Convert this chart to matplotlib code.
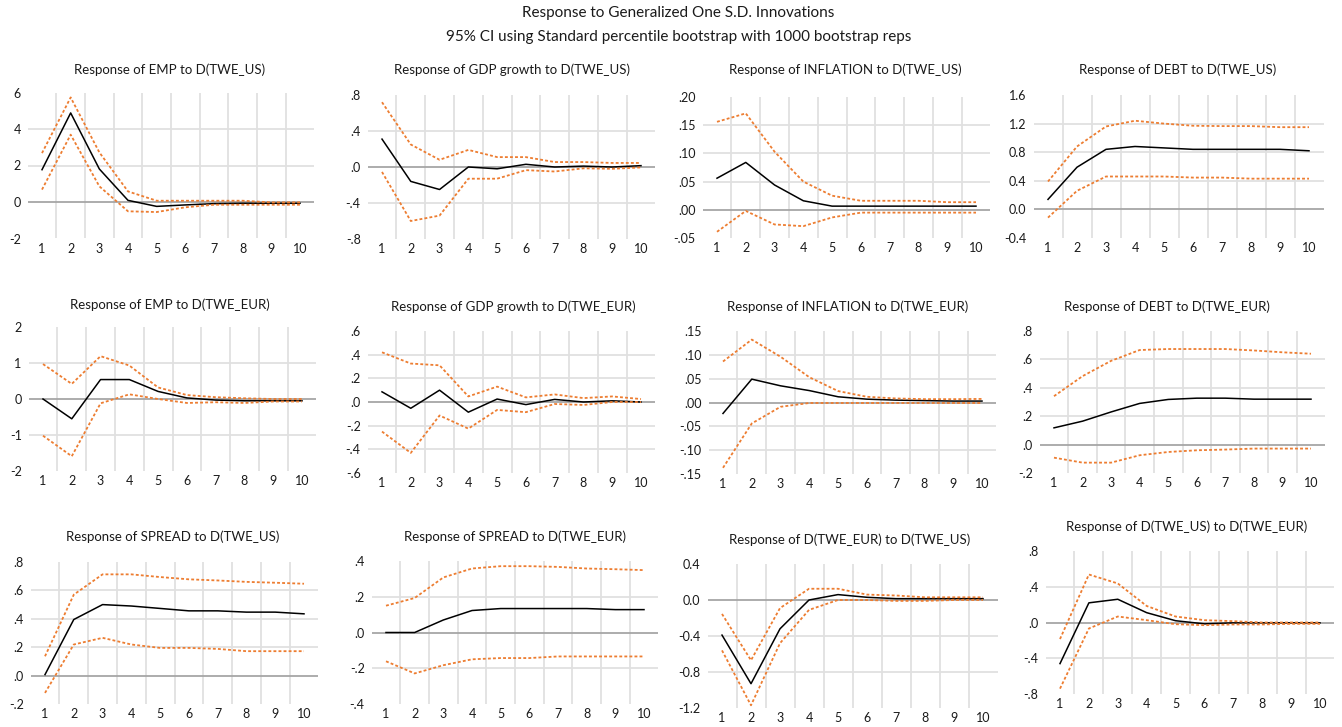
import numpy as np
import matplotlib.pyplot as plt

plt.rcParams["font.family"] = ["Lato", "DejaVu Sans"]

W, H = 1342, 727
horizon = list(range(1, 11))

# ---- responses to D(TWE_US) / D(TWE_EUR): point estimate, upper and lower band
emp_us = [1.77, 4.88, 1.81, 0.09, -0.24, -0.16, -0.09, -0.07, -0.07, -0.07]
emp_us_hi = [2.68, 5.73, 2.72, 0.58, 0.07, 0.07, 0.07, 0.07, -0.02, -0.02]
emp_us_lo = [0.68, 3.69, 0.86, -0.51, -0.55, -0.29, -0.15, -0.15, -0.15, -0.15]

gdp_us = [0.31, -0.16, -0.25, 0.0, -0.02, 0.03, 0.0, 0.01, 0.0, 0.015]
gdp_us_hi = [0.72, 0.25, 0.08, 0.19, 0.11, 0.11, 0.055, 0.055, 0.045, 0.045]
gdp_us_lo = [-0.055, -0.60, -0.54, -0.13, -0.13, -0.035, -0.05, -0.015, -0.02, -0.005]

inf_us = [0.056, 0.084, 0.044, 0.016, 0.0065, 0.0065, 0.0065, 0.0065, 0.0065, 0.0065]
inf_us_hi = [0.156, 0.171, 0.103, 0.050, 0.025, 0.016, 0.016, 0.016, 0.0135, 0.0135]
inf_us_lo = [-0.039, -0.002, -0.026, -0.029, -0.0135, -0.005, -0.005, -0.005, -0.005, -0.005]

debt_us = [0.14, 0.59, 0.84, 0.88, 0.86, 0.84, 0.84, 0.84, 0.84, 0.82]
debt_us_hi = [0.39, 0.88, 1.16, 1.24, 1.20, 1.17, 1.165, 1.165, 1.15, 1.15]
debt_us_lo = [-0.115, 0.26, 0.46, 0.46, 0.46, 0.445, 0.445, 0.43, 0.43, 0.43]

emp_eur = [0.0, -0.55, 0.54, 0.54, 0.21, 0.03, -0.03, -0.05, -0.05, -0.05]
emp_eur_hi = [0.97, 0.42, 1.19, 0.93, 0.32, 0.11, 0.05, 0.02, 0.0, 0.0]
emp_eur_lo = [-1.02, -1.59, -0.12, 0.13, 0.0, -0.11, -0.09, -0.11, -0.07, -0.07]

gdp_eur = [0.086, -0.053, 0.10, -0.086, 0.025, -0.022, 0.022, 0.0, 0.01, 0.0]
gdp_eur_hi = [0.42, 0.325, 0.31, 0.047, 0.13, 0.039, 0.064, 0.033, 0.047, 0.025]
gdp_eur_lo = [-0.25, -0.43, -0.114, -0.225, -0.067, -0.086, -0.017, -0.025, 0.0, 0.0]

inf_eur = [-0.023, 0.049, 0.035, 0.025, 0.012, 0.007, 0.005, 0.004, 0.003, 0.003]
inf_eur_hi = [0.086, 0.132, 0.096, 0.053, 0.024, 0.012, 0.0085, 0.007, 0.007, 0.0075]
inf_eur_lo = [-0.137, -0.044, -0.009, -0.001, -0.001, -0.001, -0.001, -0.001, -0.001, -0.001]

debt_eur = [0.118, 0.165, 0.23, 0.29, 0.318, 0.327, 0.327, 0.32, 0.32, 0.32]
debt_eur_hi = [0.341, 0.482, 0.59, 0.666, 0.673, 0.673, 0.673, 0.663, 0.65, 0.64]
debt_eur_lo = [-0.092, -0.127, -0.127, -0.075, -0.052, -0.04, -0.035, -0.028, -0.028, -0.028]

spread_us = [0.007, 0.395, 0.50, 0.49, 0.473, 0.456, 0.456, 0.447, 0.447, 0.435]
spread_us_hi = [0.136, 0.57, 0.713, 0.713, 0.694, 0.678, 0.67, 0.66, 0.654, 0.647]
spread_us_lo = [-0.122, 0.219, 0.266, 0.219, 0.195, 0.195, 0.188, 0.172, 0.172, 0.172]

spread_eur = [0.0, 0.0, 0.07, 0.123, 0.134, 0.134, 0.134, 0.134, 0.128, 0.128]
spread_eur_hi = [0.15, 0.193, 0.308, 0.358, 0.371, 0.371, 0.367, 0.358, 0.354, 0.349]
spread_eur_lo = [-0.161, -0.229, -0.183, -0.15, -0.143, -0.143, -0.134, -0.134, -0.134, -0.134]

eur_us = [-0.39, -0.93, -0.32, 0.0, 0.06, 0.03, 0.015, 0.015, 0.015, 0.015]
eur_us_hi = [-0.155, -0.67, -0.09, 0.125, 0.125, 0.06, 0.05, 0.03, 0.03, 0.03]
eur_us_lo = [-0.56, -1.17, -0.48, -0.11, 0.0, 0.0, -0.01, -0.01, 0.0, 0.0]

us_eur = [-0.46, 0.22, 0.26, 0.11, 0.02, -0.015, -0.004, -0.004, -0.004, -0.004]
us_eur_hi = [-0.185, 0.537, 0.437, 0.185, 0.067, 0.026, 0.015, 0.0, 0.0, 0.0]
us_eur_lo = [-0.74, -0.067, 0.067, 0.026, -0.019, -0.03, -0.022, -0.022, -0.015, -0.015]

titles = [
    "Response of EMP to D(TWE_US)", "Response of GDP growth to D(TWE_US)",
    "Response of INFLATION to D(TWE_US)", "Response of DEBT to D(TWE_US)",
    "Response of EMP to D(TWE_EUR)", "Response of GDP growth to D(TWE_EUR)",
    "Response of INFLATION to D(TWE_EUR)", "Response of DEBT to D(TWE_EUR)",
    "Response of SPREAD to D(TWE_US)", "Response of SPREAD to D(TWE_EUR)",
    "Response of D(TWE_EUR) to D(TWE_US)", "Response of D(TWE_US) to D(TWE_EUR)",
]
series = [
    (emp_us, emp_us_hi, emp_us_lo), (gdp_us, gdp_us_hi, gdp_us_lo),
    (inf_us, inf_us_hi, inf_us_lo), (debt_us, debt_us_hi, debt_us_lo),
    (emp_eur, emp_eur_hi, emp_eur_lo), (gdp_eur, gdp_eur_hi, gdp_eur_lo),
    (inf_eur, inf_eur_hi, inf_eur_lo), (debt_eur, debt_eur_hi, debt_eur_lo),
    (spread_us, spread_us_hi, spread_us_lo), (spread_eur, spread_eur_hi, spread_eur_lo),
    (eur_us, eur_us_hi, eur_us_lo), (us_eur, us_eur_hi, us_eur_lo),
]
yticks = [
    [-2, 0, 2, 4, 6], [-.8, -.4, 0, .4, .8], [-.05, 0, .05, .1, .15, .2],
    [-0.4, 0, 0.4, 0.8, 1.2, 1.6], [-2, -1, 0, 1, 2], [-.6, -.4, -.2, 0, .2, .4, .6],
    [-.15, -.1, -.05, 0, .05, .1, .15], [-.2, 0, .2, .4, .6, .8],
    [-.2, 0, .2, .4, .6, .8], [-.4, -.2, 0, .2, .4], [-1.2, -0.8, -0.4, 0, 0.4],
    [-.8, -.4, 0, .4, .8],
]
ylabels = [
    ["-2", "0", "2", "4", "6"], ["-.8", "-.4", ".0", ".4", ".8"],
    ["-.05", ".00", ".05", ".10", ".15", ".20"], ["-0.4", "0.0", "0.4", "0.8", "1.2", "1.6"],
    ["-2", "-1", "0", "1", "2"], ["-.6", "-.4", "-.2", ".0", ".2", ".4", ".6"],
    ["-.15", "-.10", "-.05", ".00", ".05", ".10", ".15"], ["-.2", ".0", ".2", ".4", ".6", ".8"],
    ["-.2", ".0", ".2", ".4", ".6", ".8"], ["-.4", "-.2", ".0", ".2", ".4"],
    ["-1.2", "-0.8", "-0.4", "0.0", "0.4"], ["-.8", "-.4", ".0", ".4", ".8"],
]

# pixel layout: x of tick 1, x of tick 10, y of top tick, y of bottom tick, title centre
layout = [
    (42, 300, 92.5, 238.5, 170, 70), (382, 641, 95, 239, 512, 70),
    (717, 976, 97, 238, 845, 70), (1048, 1309, 95, 238, 1178, 70),
    (43, 302, 327, 471, 170, 305), (382, 641, 331, 473, 513, 307),
    (723, 982, 331, 474, 848, 307), (1054, 1311, 331, 473, 1167, 307),
    (45, 304, 562, 704, 173, 537), (386, 644, 561, 704, 515, 537),
    (722, 983, 564, 708, 850, 540), (1060, 1320, 551, 694, 1187, 527),
]

ORANGE = "#ED7D31"
GRID = "#E0E0E0"

fig = plt.figure(figsize=(W / 100, H / 100), dpi=100)

fig.text(678 / W, 1 - 13 / H, "Response to Generalized One S.D. Innovations",
         ha="center", va="center", fontsize=11, color="#1a1a1a")
fig.text(679 / W, 1 - 37 / H,
         "95% CI using Standard percentile bootstrap with 1000 bootstrap reps",
         ha="center", va="center", fontsize=11, color="#1a1a1a")

for i in range(12):
    t1, t10, ytop, ybot, tx, ty = layout[i]
    sp = (t10 - t1) / 9
    left, right = t1 - sp / 2, t10 + sp / 2
    ax = fig.add_axes([left / W, 1 - ybot / H, (right - left) / W, (ybot - ytop) / H])
    irf, hi, lo = series[i]
    yt = yticks[i]

    ax.set_xlim(0.5, 10.5)
    ax.set_ylim(yt[0], yt[-1])
    for xv in np.arange(1.5, 10, 1.0):
        ax.axvline(xv, color=GRID, lw=1.3, zorder=0)
    for yv in yt[1:-1]:
        if yv == 0:
            ax.axhline(0, color="#A6A6A6", lw=1.3, zorder=1)
        else:
            ax.axhline(yv, color=GRID, lw=1.3, zorder=0)

    ax.plot(horizon, irf, color="black", lw=1.1, zorder=3)
    ax.plot(horizon, hi, color=ORANGE, lw=1.3, ls=(0, (1.6, 1.2)), zorder=4)
    ax.plot(horizon, lo, color=ORANGE, lw=1.3, ls=(0, (1.6, 1.2)), zorder=4)

    ax.set_xticks(horizon)
    ax.set_yticks(yt)
    ax.set_yticklabels(ylabels[i])
    ax.tick_params(length=0, labelsize=9, colors="#1a1a1a", pad=5)
    ax.tick_params(axis="x", pad=3)
    for s in ax.spines.values():
        s.set_visible(False)
    ax.patch.set_alpha(0)

    fig.text(tx / W, 1 - ty / H, titles[i], ha="center", va="center",
             fontsize=9.5, color="#1a1a1a")

fig.savefig("out.png", dpi=100)
